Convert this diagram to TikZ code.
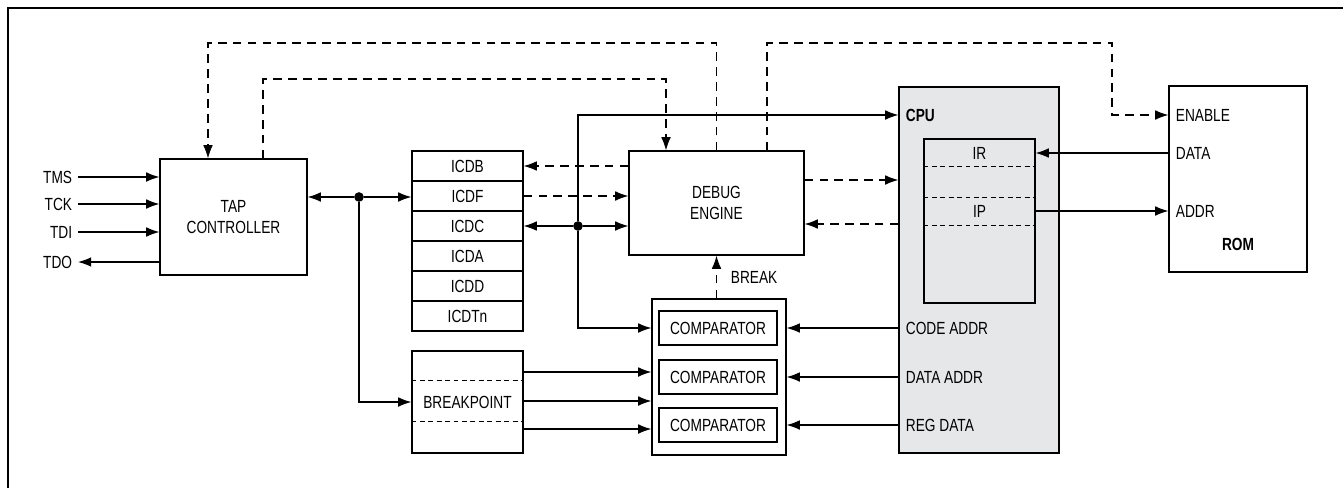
\documentclass[tikz,border=0pt]{standalone}
\usepackage{fontspec}
\setmainfont{Liberation Sans}[FakeStretch=0.78]
\usetikzlibrary{arrows.meta,positioning,calc}
\definecolor{cpugray}{HTML}{E6E7E8}

\begin{document}
\begin{tikzpicture}[x=0.02cm,y=-0.02cm,>={Latex[length=7.5pt,width=5.5pt]},
 line width=0.7pt,font=\fontsize{10}{12}\selectfont,
 box/.style={draw,align=center,inner sep=0pt},
 cell/.style={box,minimum width=2.22cm,minimum height=0.6cm},
 cmp/.style={box,minimum width=2.36cm,minimum height=0.68cm},
 dot/.style={circle,fill,inner sep=0pt,minimum size=5.5pt},
 lbl/.style={inner sep=3pt},
 bold/.style={font=\fontsize{10}{12}\selectfont\bfseries},
 sig/.style={dash pattern=on 5pt off 3.5pt},
 fine/.style={line width=0.5pt,dash pattern=on 2.8pt off 2pt}]
 \useasboundingbox (0,0) rectangle (1343,488);
 \draw[line width=1.2pt] (8,488) -- (8,8) -- (1343,8);

 % jtag side
 \node[box,minimum width=2.94cm,minimum height=2.32cm] (tap) at (233.5,217) {TAP\\CONTROLLER};
 \node[lbl,anchor=east] (tms) at (78,177) {TMS};
 \node[lbl,anchor=east] (tck) at (78,204) {TCK};
 \node[lbl,anchor=east] (tdi) at (78,232) {TDI};
 \node[lbl,anchor=east] (tdo) at (78,262) {TDO};
 \foreach \s in {tms,tck,tdi}
  \draw[->] (\s) -- (tap.west |- \s);
 \draw[->] (tap.west |- tdo) -- (tdo);

 % registers
 \foreach \nm [count=\i] in {ICDB,ICDF,ICDC,ICDA,ICDD,ICDTn}
  \node[cell] (\nm) at (467.5,136+30*\i) {\nm};
 \node[box,minimum width=2.22cm,minimum height=2.04cm] (bp) at (467.5,402) {BREAKPOINT};
 \draw[fine] (bp.west |- 0,380) -- (bp.east |- 0,380);
 \draw[fine] (bp.west |- 0,421) -- (bp.east |- 0,421);

 % debug engine and comparators
 \node[box,minimum width=3.5cm,minimum height=2.08cm] (debug) at (716.5,203) {DEBUG\\ENGINE};
 \node[box,minimum width=2.68cm,minimum height=3.12cm] (cmpbox) at (719,377) {};
 \foreach \y [count=\i] in {328,377,425}
  \node[cmp] (cmp\i) at (718,\y) {COMPARATOR};
 \node[lbl,anchor=west] (brk) at (725,277) {BREAK};

 % cpu
 \node[box,fill=cpugray,minimum width=3.2cm,minimum height=7.32cm] (cpu) at (979,270) {};
 \node[box,minimum width=2.22cm,minimum height=3.28cm] (reg) at (979.5,221) {};
 \foreach \y in {166,197,225}
  \draw[fine] (reg.west |- 0,\y) -- (reg.east |- 0,\y);
 \node (ir) at (979.5,153) {IR};
 \node (ip) at (979.5,211) {IP};
 \node[lbl,bold,anchor=west] (cpulbl) at (900,115) {CPU};
 \node[lbl,anchor=west] (codeaddr) at (900,328) {CODE ADDR};
 \node[lbl,anchor=west] (dataaddr) at (900,377) {DATA ADDR};
 \node[lbl,anchor=west] (regdata) at (900,425) {REG DATA};

 % rom
 \node[box,minimum width=2.76cm,minimum height=3.72cm] (rom) at (1238,179) {};
 \node[lbl,anchor=west] (enable) at (1170,115) {ENABLE};
 \node[lbl,anchor=west] (data) at (1170,153) {DATA};
 \node[lbl,anchor=west] (addr) at (1170,211) {ADDR};
 \node[lbl,bold] (romlbl) at (1238,244) {ROM};

 % buses
 \node[dot] (j1) at (359,197) {};
 \draw[->] (j1) -- (tap.east |- j1);
 \draw[->] (j1) -- (j1 -| ICDF.west);
 \draw[->] (j1) |- (bp.west);
 \node[dot] (j2) at (578,226) {};
 \draw[->] (j2) -- (ICDC.east);
 \draw[->] (j2) -- (j2 -| debug.west);
 \draw[->] (j2) |- (cpu.west |- cpulbl);
 \draw[->] (j2) |- (cmpbox.west |- cmp1);
 \foreach \y in {372,401,429}
  \draw[->] (bp.east |- 0,\y) -- (cmpbox.west |- 0,\y);
 \foreach \i in {1,2,3}
  \draw[->] (cpu.west |- cmp\i) -- (cmpbox.east |- cmp\i);
 \draw[->] (rom.west |- data) -- (reg.east |- data);
 \draw[->] (reg.east |- addr) -- (rom.west |- addr);

 % control (dashed)
 \draw[sig,->] (debug.west |- ICDB) -- (ICDB.east);
 \draw[sig,->] (ICDF.east) -- (debug.west |- ICDF);
 \draw[sig,->] (debug.east |- 0,180) -- (cpu.west |- 0,180);
 \draw[sig,->] (cpu.west |- 0,224) -- (debug.east |- 0,224);
 \draw[sig,->] (cmpbox.north -| debug.south) -- (debug.south);
 \coordinate (t1) at (208,43);
 \coordinate (t2) at (1112,43);
 \coordinate (t3) at (263,79);
 \draw[sig,->] (debug.north) |- (t1) -- (t1 |- tap.north);
 \draw[sig,->] (debug.north -| 767,0) |- (t2) |- (rom.west |- enable);
 \draw[sig,->] (t3 |- tap.north) -- (t3) -| (debug.north -| 666,0);
\end{tikzpicture}
\end{document}
